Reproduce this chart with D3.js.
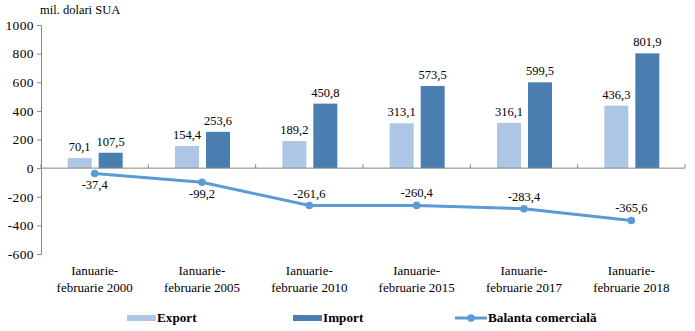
<!DOCTYPE html>
<html><head><meta charset="utf-8">
<script src="https://cdn.jsdelivr.net/npm/d3@7"></script>
<style>body{margin:0;background:#fff}svg{display:block}</style>
</head><body>
<svg id="c" width="695" height="331" font-family="Liberation Serif"></svg>
<script>
const categories = [["Ianuarie-","februarie 2000"],["Ianuarie-","februarie 2005"],["Ianuarie-","februarie 2010"],["Ianuarie-","februarie 2015"],["Ianuarie-","februarie 2017"],["Ianuarie-","februarie 2018"]];
const exportVals = [70.1,154.4,189.2,313.1,316.1,436.3];
const importVals = [107.5,253.6,450.8,573.5,599.5,801.9];
const balanta = [-37.4,-99.2,-261.6,-260.4,-283.4,-365.6];
const yTicks = [-600,-400,-200,0,200,400,600,800,1000];
const seriesNames = ["Export","Import","Balanta comercială"];

const FF = "Liberation Serif";
const svg = d3.select("#c");
const fmt = v => d3.format(".1f")(v).replace(".", ",").replace("\u2212","-");
const x = d3.scaleBand().domain(d3.range(categories.length)).range([41,685]);
const y = d3.scaleLinear().domain([-600,1000]).range([254,25]);
const cExp="#adc6e5", cImp="#4a7eb0", cLine="#5b9bd5", axisC="#868686";

// y axis
const ya = svg.append("g").attr("transform","translate(41,0)")
  .call(d3.axisLeft(y).tickValues(yTicks).tickSize(4).tickFormat(d=>String(d)));
ya.attr("font-family",FF).attr("font-size",13);
ya.select(".domain").attr("stroke",axisC);
ya.selectAll(".tick line").attr("stroke",axisC);
ya.selectAll(".tick text").attr("font-family",FF).attr("font-size",13.5).attr("letter-spacing",0.4).attr("fill","#000").attr("x",-7);

svg.append("text").attr("x",40).attr("y",14).attr("font-family",FF).attr("font-size",12.5).text("mil. dolari SUA");

// bars
const g = svg.append("g");
g.selectAll(".be").data(exportVals).enter().append("rect")
  .attr("x",(d,i)=>x(i)+x.bandwidth()/2-27).attr("width",24)
  .attr("y",d=>y(d)).attr("height",d=>y(0)-y(d)).attr("fill",cExp);
g.selectAll(".bi").data(importVals).enter().append("rect")
  .attr("x",(d,i)=>x(i)+x.bandwidth()/2+4).attr("width",24)
  .attr("y",d=>y(d)).attr("height",d=>y(0)-y(d)).attr("fill",cImp);
g.selectAll(".le").data(exportVals).enter().append("text")
  .attr("x",(d,i)=>x(i)+x.bandwidth()/2-15).attr("y",d=>y(d)-7)
  .attr("text-anchor","middle").attr("font-family",FF).attr("font-size",12.5).text(fmt);
g.selectAll(".li").data(importVals).enter().append("text")
  .attr("x",(d,i)=>x(i)+x.bandwidth()/2+16).attr("y",d=>y(d)-7)
  .attr("text-anchor","middle").attr("font-family",FF).attr("font-size",12.5).text(fmt);

// x axis at zero
svg.append("line").attr("x1",41).attr("x2",685).attr("y1",y(0)).attr("y2",y(0)).attr("stroke",axisC);
svg.selectAll(".xt").data(d3.range(categories.length+1)).enter().append("line")
  .attr("x1",i=>i<categories.length?x(i):x.range()[1]).attr("x2",i=>i<categories.length?x(i):x.range()[1])
  .attr("y1",y(0)-4).attr("y2",y(0)).attr("stroke",axisC);

// category labels
categories.forEach((c,i)=>{
  const cx = x(i)+x.bandwidth()/2;
  const t = svg.append("text").attr("x",cx).attr("y",275).attr("text-anchor","middle").attr("font-family",FF).attr("font-size",13);
  t.append("tspan").attr("x",cx).attr("dy",0).text(c[0]);
  t.append("tspan").attr("x",cx).attr("dy",17).text(c[1]);
});

// line
const line = d3.line().x((d,i)=>x(i)+x.bandwidth()/2).y(d=>y(d));
svg.append("path").datum(balanta).attr("d",line).attr("fill","none").attr("stroke",cLine).attr("stroke-width",3);
svg.selectAll(".pt").data(balanta).enter().append("circle")
  .attr("cx",(d,i)=>x(i)+x.bandwidth()/2).attr("cy",d=>y(d)).attr("r",3.8).attr("fill",cLine);
svg.selectAll(".pl").data(balanta).enter().append("text")
  .attr("x",(d,i)=>x(i)+x.bandwidth()/2).attr("y",(d,i)=>i<2?y(d)+16:y(d)-8)
  .attr("text-anchor","middle").attr("font-family",FF).attr("font-size",12.5).text(fmt);

// legend
const lg = svg.append("g").attr("font-family",FF).attr("font-size",13.2).attr("font-weight","bold");
lg.append("rect").attr("x",127).attr("y",315).attr("width",29).attr("height",6).attr("fill",cExp);
lg.append("text").attr("x",157).attr("y",322).text(seriesNames[0]);
lg.append("rect").attr("x",293).attr("y",315).attr("width",29).attr("height",6).attr("fill",cImp);
lg.append("text").attr("x",323).attr("y",322).text(seriesNames[1]);
lg.append("line").attr("x1",455).attr("x2",487).attr("y1",318).attr("y2",318).attr("stroke",cLine).attr("stroke-width",3);
lg.append("circle").attr("cx",471).attr("cy",318).attr("r",3.8).attr("fill",cLine);
lg.append("text").attr("x",488).attr("y",322).text(seriesNames[2]);
</script>
</body></html>
